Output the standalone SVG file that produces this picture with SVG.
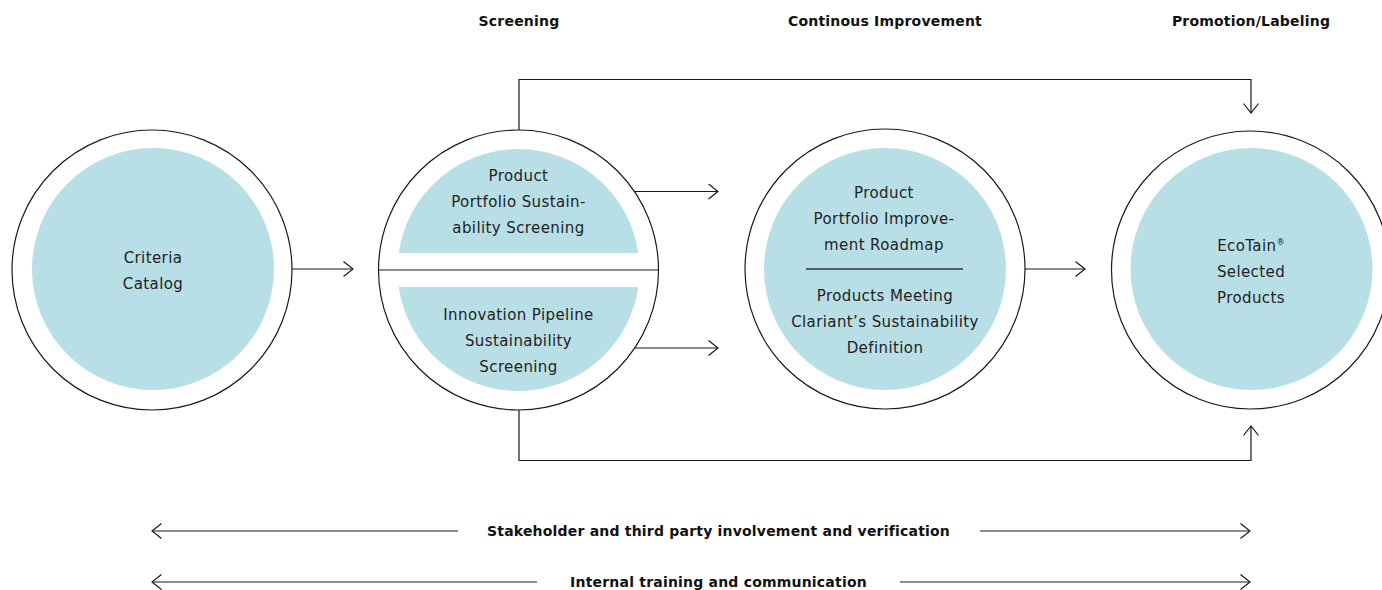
<svg xmlns="http://www.w3.org/2000/svg" width="1382" height="590" viewBox="0 0 1382 590">
<style>
.outer{fill:#fff;stroke:#1a1a1a;stroke-width:1.2}
.inner{fill:#b9dfe6;stroke:none}
.ln{fill:none;stroke:#1a1a1a;stroke-width:1.2}
.t{font-family:"DejaVu Sans",sans-serif;font-size:15px;letter-spacing:0.4px;fill:#222;text-anchor:middle}
.h{font-family:"DejaVu Sans",sans-serif;font-size:14px;font-weight:bold;letter-spacing:0.2px;fill:#111;text-anchor:middle}
.sup{font-size:8px}
</style>
<defs>
<marker id="ah" markerUnits="userSpaceOnUse" markerWidth="14" markerHeight="18" refX="10" refY="8" orient="auto-start-reverse" viewBox="0 0 14 18">
<path d="M0.5,0.5 L10,8 L0.5,15.5" fill="none" stroke="#1a1a1a" stroke-width="1.2"/>
</marker>
</defs>
<rect width="1382" height="590" fill="#fff"/>
<g id="headers">
<text class="h" x="519" y="26">Screening</text>
<text class="h" x="885" y="26">Continous Improvement</text>
<text class="h" x="1251" y="26">Promotion/Labeling</text>
</g>
<g id="connectors">
<line class="ln" x1="292" y1="269" x2="353" y2="269" marker-end="url(#ah)"/>
<line class="ln" x1="634" y1="191.5" x2="718" y2="191.5" marker-end="url(#ah)"/>
<line class="ln" x1="634" y1="348" x2="718" y2="348" marker-end="url(#ah)"/>
<line class="ln" x1="1025" y1="269" x2="1085" y2="269" marker-end="url(#ah)"/>
<polyline class="ln" points="519,130 519,79.5 1251,79.5 1251,113" marker-end="url(#ah)"/>
<polyline class="ln" points="519,409 519,460.5 1251,460.5 1251,426" marker-end="url(#ah)"/>
<line class="ln" x1="458" y1="531" x2="152" y2="531" marker-end="url(#ah)"/>
<line class="ln" x1="980" y1="531" x2="1250" y2="531" marker-end="url(#ah)"/>
<line class="ln" x1="537" y1="582" x2="152" y2="582" marker-end="url(#ah)"/>
<line class="ln" x1="900" y1="582" x2="1250" y2="582" marker-end="url(#ah)"/>
</g>
<g id="band-labels">
<text class="h" x="718.5" y="536">Stakeholder and third party involvement and verification</text>
<text class="h" x="718.5" y="587">Internal training and communication</text>
</g>
<g id="node-criteria">
<circle class="outer" cx="152" cy="270" r="140"/>
<circle class="inner" cx="153" cy="269" r="121"/>
<text class="t" x="153" y="263">Criteria</text>
<text class="t" x="153" y="289">Catalog</text>
</g>
<g id="node-screening">
<circle class="outer" cx="518.5" cy="270" r="140"/>
<path class="inner" d="M398.7,253 A121,121 0 0 1 638.3,253 Z"/>
<path class="inner" d="M398.7,287 A121,121 0 0 0 638.3,287 Z"/>
<line class="ln" x1="378.5" y1="270" x2="658.5" y2="270"/>
<text class="t" x="518.5" y="181">Product</text>
<text class="t" x="518.5" y="207">Portfolio Sustain-</text>
<text class="t" x="518.5" y="233">ability Screening</text>
<text class="t" x="518.5" y="320">Innovation Pipeline</text>
<text class="t" x="518.5" y="346">Sustainability</text>
<text class="t" x="518.5" y="372">Screening</text>
</g>
<g id="node-improvement">
<circle class="outer" cx="885" cy="269" r="140"/>
<circle class="inner" cx="885" cy="269" r="121"/>
<line x1="806" y1="269" x2="963" y2="269" stroke="#333" stroke-width="1.3"/>
<text class="t" x="884" y="198">Product</text>
<text class="t" x="884" y="224">Portfolio Improve-</text>
<text class="t" x="884" y="250">ment Roadmap</text>
<text class="t" x="885" y="301">Products Meeting</text>
<text class="t" x="885" y="327">Clariant’s Sustainability</text>
<text class="t" x="885" y="353">Definition</text>
</g>
<g id="node-ecotain">
<circle class="outer" cx="1250.5" cy="270" r="139"/>
<circle class="inner" cx="1251.5" cy="269" r="121"/>
<text class="t" x="1251" y="251">EcoTain<tspan class="sup" dy="-6">®</tspan></text>
<text class="t" x="1251" y="277">Selected</text>
<text class="t" x="1251" y="303">Products</text>
</g>
</svg>
